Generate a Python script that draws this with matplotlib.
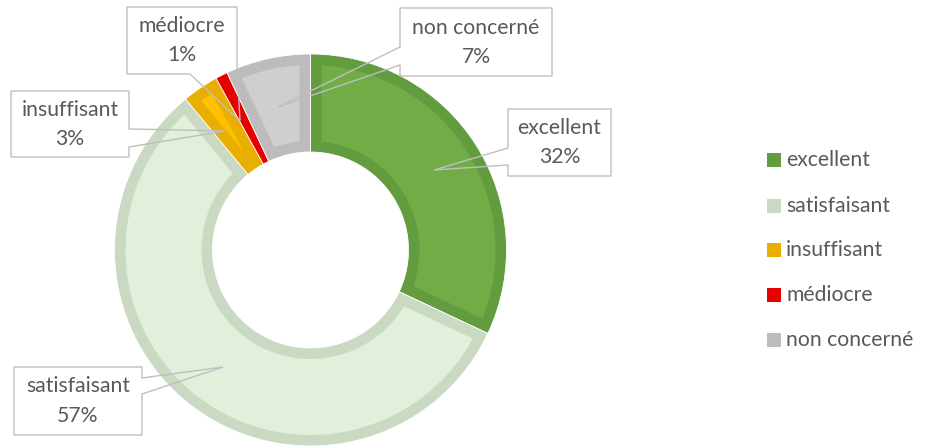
import numpy as np
import matplotlib
matplotlib.use("Agg")
import matplotlib.pyplot as plt
from matplotlib.patches import Polygon, Rectangle

categories = ["excellent", "satisfaisant", "insuffisant", "médiocre", "non concerné"]
values = [32, 57, 3, 1, 7]
pct_labels = ["32%", "57%", "3%", "1%", "7%"]

fill_colors = ["#70AD47", "#E2EFDA", "#FFC000", "#FF0000", "#D0CECE"]
edge_colors = ["#629C3E", "#CAD9C1", "#E8AE00", "#E60000", "#BDBBBC"]

W, H = 926, 448
DPI = 100
fig = plt.figure(figsize=(W / DPI, H / DPI), dpi=DPI)
ax = fig.add_axes([0, 0, 1, 1])


def Y(y):
    return H - y


cx, cy = 310.5, 250
R_out, R_in = 196, 98
b = 11  # inner border width (px)

# base wedges in border colour
wedges, _ = ax.pie(values, colors=edge_colors, radius=R_out, center=(cx, Y(cy)),
                   startangle=90, counterclock=False,
                   wedgeprops=dict(width=R_out - R_in, edgecolor="white", linewidth=0.6))


def inset_polygon(th1, th2, r_in, r_out, bw, n=80):
    t1, t2 = np.radians(th1), np.radians(th2)
    d = t2 - t1
    r0 = bw / np.sin(d / 2) if d < np.pi else 0.0
    ra = max(r_in + bw, r0)
    rb = r_out - bw
    if ra >= rb:
        return None
    a1 = t1 + np.arcsin(bw / rb)
    a2 = t2 - np.arcsin(bw / rb)
    outer = [(rb * np.cos(a), rb * np.sin(a)) for a in np.linspace(a1, a2, n)]
    if ra > r0 + 1e-6:
        i1 = t1 + np.arcsin(bw / ra)
        i2 = t2 - np.arcsin(bw / ra)
        inner = [(ra * np.cos(a), ra * np.sin(a)) for a in np.linspace(i2, i1, n)]
    else:
        tm = (t1 + t2) / 2
        inner = [(r0 * np.cos(tm), r0 * np.sin(tm))]
    return outer + inner


for w, fc in zip(wedges, fill_colors):
    poly = inset_polygon(w.theta1, w.theta2, R_in, R_out, b)
    if poly is not None:
        pts = [(cx + x, Y(cy) + y) for x, y in poly]
        ax.add_patch(Polygon(pts, closed=True, facecolor=fc, edgecolor="none", zorder=w.get_zorder() + 0.1))

ax.set_xlim(0, W)
ax.set_ylim(0, H)
ax.set_aspect("equal")
ax.axis("off")

# callout boxes (pixel coords, y from top): outline incl. pointer
callouts = {
    "excellent": [(508, 109), (611, 109), (611, 176), (508, 176), (508, 165), (434, 170), (508, 148)],
    "satisfaisant": [(14, 367), (142, 367), (142, 378), (223, 367), (142, 394), (142, 435), (14, 435)],
    "insuffisant": [(11, 91), (129, 91), (129, 129), (225, 131), (129, 147), (129, 157), (11, 157)],
    "médiocre": [(127, 7), (237, 7), (237, 65), (240, 121), (190, 74), (127, 74)],
    "non concerné": [(400, 8), (552, 8), (552, 76), (400, 76), (400, 65), (278, 107), (400, 47)],
}
boxes = {
    "excellent": (508, 109, 611, 176),
    "satisfaisant": (14, 367, 142, 435),
    "insuffisant": (11, 91, 129, 157),
    "médiocre": (127, 7, 237, 74),
    "non concerné": (400, 8, 552, 76),
}

font = ["Lato", "DejaVu Sans"]
txt_color = "#595959"
fs = 15.2

for cat, pct in zip(categories, pct_labels):
    pts = [(x, Y(y)) for x, y in callouts[cat]]
    ax.add_patch(Polygon(pts, closed=True, fill=False, edgecolor="#BFBFBF",
                         linewidth=1.0, joinstyle="miter", zorder=5))
    x0, y0, x1, y1 = boxes[cat]
    mx = (x0 + x1) / 2
    my = (y0 + y1) / 2
    ax.text(mx, Y(my - 14.5), cat, ha="center", va="center", fontsize=fs,
            color=txt_color, family=font, zorder=6)
    ax.text(mx, Y(my + 14.5), pct, ha="center", va="center", fontsize=fs,
            color=txt_color, family=font, zorder=6)

# legend
leg_y = [160, 206, 250, 295, 340]
for cat, ec, ly in zip(categories, edge_colors, leg_y):
    ax.add_patch(Rectangle((767, Y(ly) - 7), 14, 14, facecolor=ec, edgecolor="none"))
    ax.text(786, Y(ly), cat, ha="left", va="center", fontsize=fs,
            color=txt_color, family=font)

fig.savefig("out.png", dpi=DPI)
